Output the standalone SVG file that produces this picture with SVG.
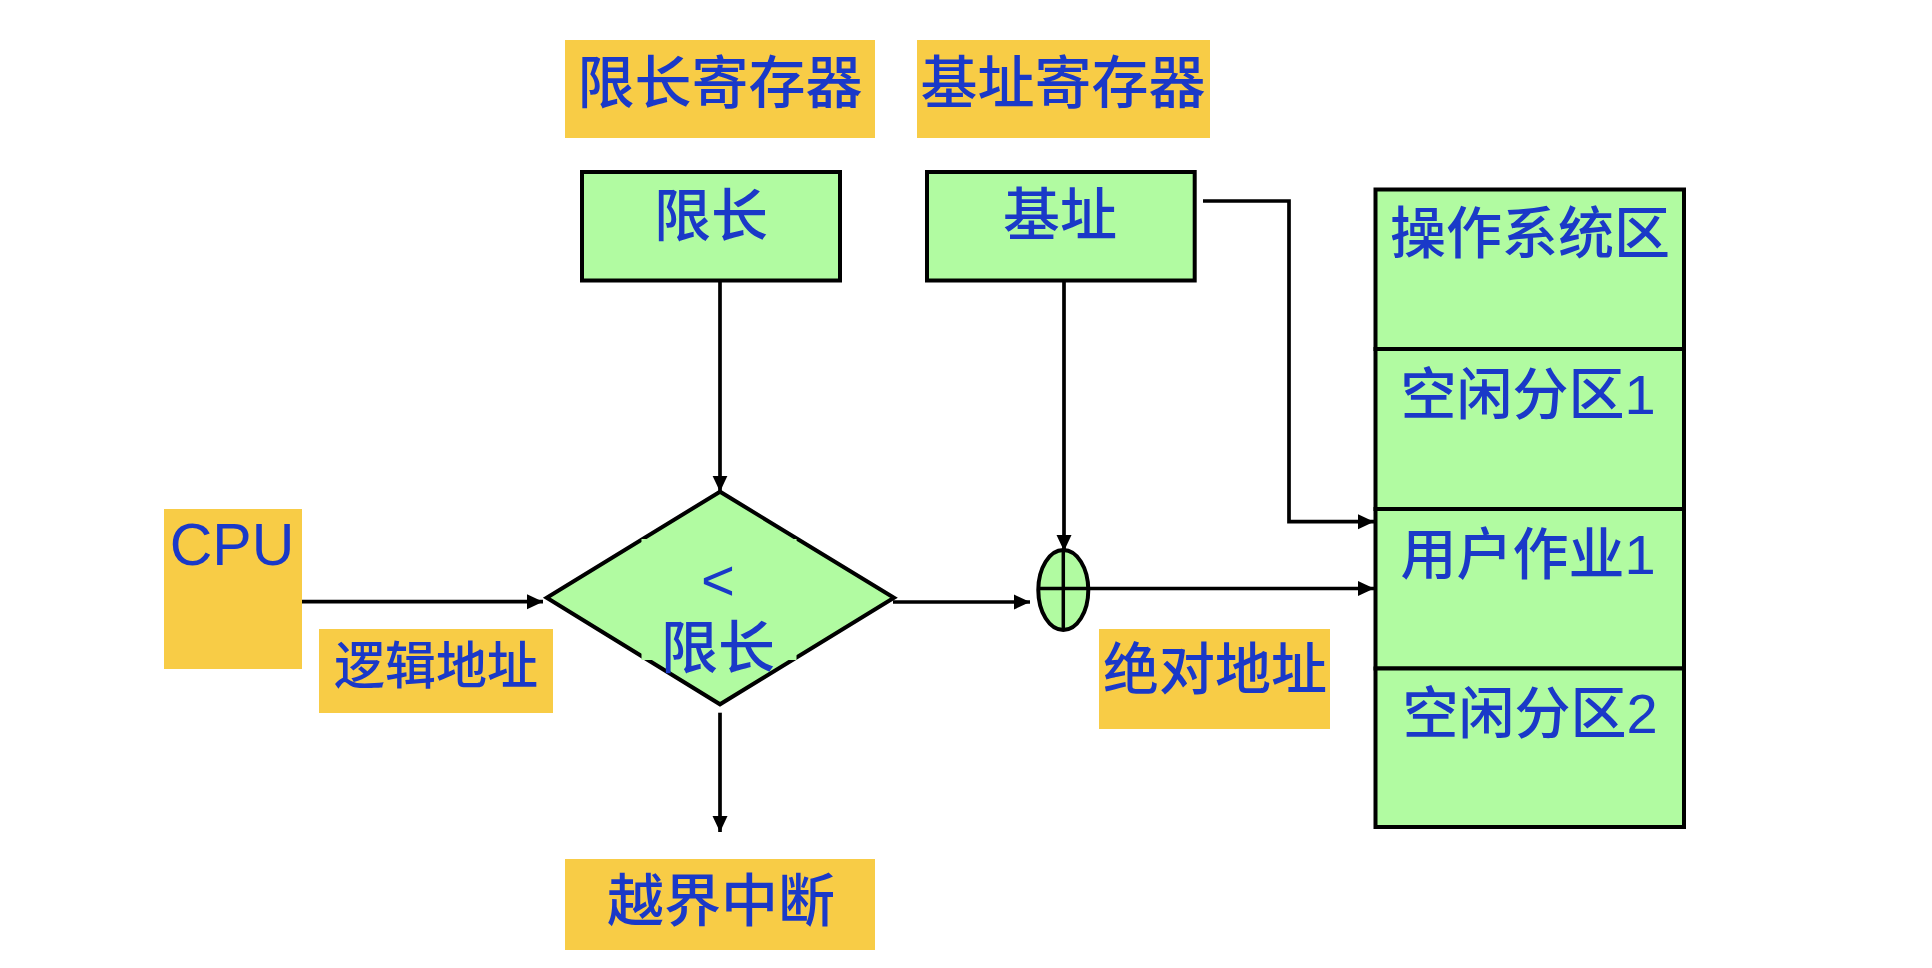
<svg xmlns="http://www.w3.org/2000/svg" width="1932" height="968" viewBox="0 0 1932 968">
<defs>
<style>
.lbl{fill:#F8CC46;stroke:none}
.box{fill:#B1FBA1;stroke:#000;stroke-width:4}
.t{font-family:"Liberation Sans","Noto Sans CJK SC",sans-serif;fill:#1A39C8;text-anchor:middle;font-weight:500}
.f57{font-size:57px}
.f51{font-size:51px}
.f56{font-size:56px}
.conn{fill:none;stroke:#000;stroke-width:3.7}
</style>
<marker id="arr" markerUnits="userSpaceOnUse" markerWidth="16" markerHeight="16" refX="16" refY="7.5" orient="auto" viewBox="0 0 16 15">
<path d="M0,0 L16,7.5 L0,15 Z" fill="#000"/>
</marker>
</defs>
<rect width="1932" height="968" fill="#fff"/>

<g id="limit-reg-label">
<rect class="lbl" x="565" y="40" width="310" height="98"/>
<text class="t f57" x="720" y="103">限长寄存器</text>
</g>
<g id="base-reg-label">
<rect class="lbl" x="917" y="40" width="293" height="98"/>
<text class="t f57" x="1063" y="103">基址寄存器</text>
</g>
<g id="limit-box">
<rect class="box" x="582" y="172" width="258" height="108.5"/>
<text class="t f57" x="711" y="236">限长</text>
</g>
<g id="base-box">
<rect class="box" x="927" y="172" width="267.7" height="108.5"/>
<text class="t f57" x="1060" y="235">基址</text>
</g>
<g id="cpu">
<rect class="lbl" x="164" y="509" width="138" height="160"/>
<text class="t" style="font-size:59px;font-weight:400" x="232" y="565">CPU</text>
</g>
<g id="logical-label">
<rect class="lbl" x="319" y="629" width="234" height="84"/>
<text class="t f51" x="436" y="684">逻辑地址</text>
</g>
<g id="compare">
<polygon class="box" points="720,491.7 546.7,597.7 720,704.3 894,597.7"/>
<rect x="641.5" y="539" width="155" height="121" fill="#B1FBA1"/>
<text class="t" style="font-size:58px" x="718" y="600">&lt;</text>
<text class="t f57" x="718" y="668">限长</text>
</g>
<g id="adder">
<ellipse class="box" cx="1063.3" cy="590" rx="25" ry="40"/>
<line x1="1063.3" y1="550" x2="1063.3" y2="630" stroke="#000" stroke-width="3.5"/>
<line x1="1038" y1="588.5" x2="1089" y2="588.5" stroke="#000" stroke-width="3.5"/>
</g>
<g id="absolute-label">
<rect class="lbl" x="1099" y="629" width="231" height="100"/>
<text class="t f56" x="1215" y="689">绝对地址</text>
</g>
<g id="interrupt-label">
<rect class="lbl" x="565" y="859" width="310" height="91"/>
<text class="t f57" x="721" y="921">越界中断</text>
</g>
<g id="memory">
<rect class="box" x="1375.5" y="189.5" width="308.5" height="159.5"/>
<rect class="box" x="1375.5" y="349" width="308.5" height="160"/>
<rect class="box" x="1375.5" y="509" width="308.5" height="159.5"/>
<rect class="box" x="1375.5" y="668.5" width="308.5" height="158.5"/>
<text class="t f56" x="1530" y="253">操作系统区</text>
<text class="t f56" x="1528" y="414">空闲分区1</text>
<text class="t f56" x="1528" y="574">用户作业1</text>
<text class="t f56" x="1530" y="733">空闲分区2</text>
</g>

<g id="connectors">
<path class="conn" d="M720,282 V491.7" marker-end="url(#arr)"/>
<path class="conn" d="M1064,282 V551" marker-end="url(#arr)"/>
<path class="conn" d="M1203,201 H1289 V521.7 H1374" marker-end="url(#arr)"/>
<path class="conn" d="M302,601.7 H543" marker-end="url(#arr)"/>
<path class="conn" d="M893,602 H1030" marker-end="url(#arr)"/>
<path class="conn" d="M1089,588.5 H1374" marker-end="url(#arr)"/>
<path class="conn" d="M720,712.7 V832" marker-end="url(#arr)"/>
</g>
</svg>
